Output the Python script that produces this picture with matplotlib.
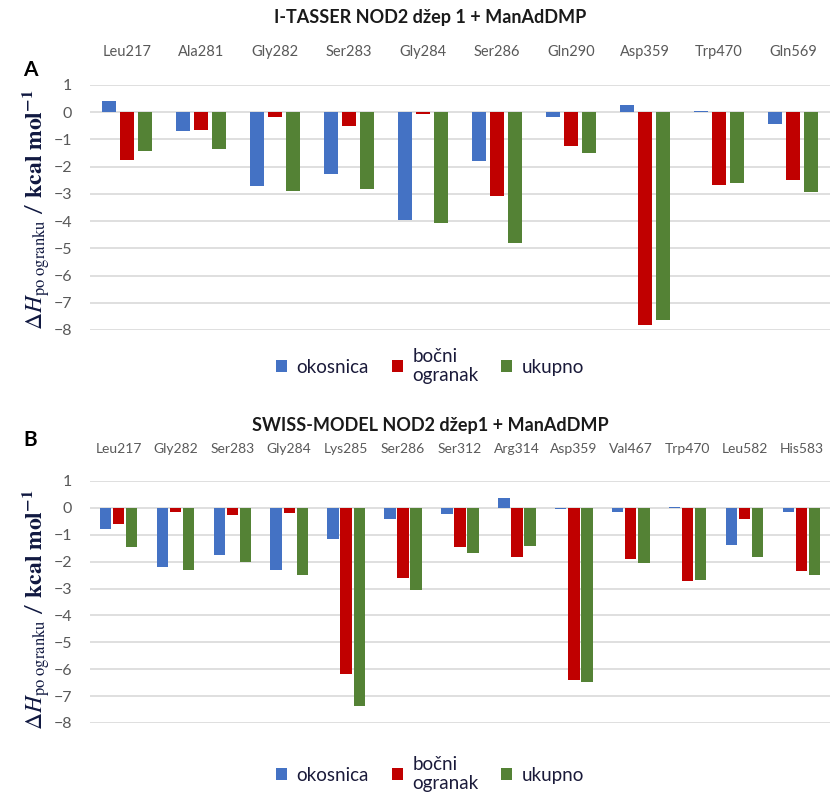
import matplotlib.pyplot as plt
import numpy as np

# Panel A: I-TASSER
res_a = ["Leu217", "Ala281", "Gly282", "Ser283", "Gly284", "Ser286",
         "Gln290", "Asp359", "Trp470", "Gln569"]
okosnica_a = [0.4, -0.69, -2.70, -2.28, -3.96, -1.79, -0.18, 0.25, 0.05, -0.43]
bocni_a = [-1.75, -0.65, -0.18, -0.50, -0.07, -3.07, -1.23, -7.80, -2.67, -2.49]
ukupno_a = [-1.41, -1.36, -2.88, -2.83, -4.06, -4.82, -1.50, -7.63, -2.61, -2.92]

# Panel B: SWISS-MODEL
res_b = ["Leu217", "Gly282", "Ser283", "Gly284", "Lys285", "Ser286", "Ser312",
         "Arg314", "Asp359", "Val467", "Trp470", "Leu582", "His583"]
okosnica_b = [-0.78, -2.18, -1.77, -2.30, -1.14, -0.40, -0.23, 0.35, -0.05,
              -0.15, 0.03, -1.39, -0.15]
bocni_b = [-0.60, -0.15, -0.25, -0.19, -6.16, -2.60, -1.45, -1.82, -6.41,
           -1.90, -2.71, -0.40, -2.36]
ukupno_b = [-1.45, -2.30, -2.00, -2.48, -7.36, -3.04, -1.67, -1.40, -6.46,
            -2.04, -2.68, -1.82, -2.51]

series_names = ["okosnica", "bočni\nogranak", "ukupno"]
colors = ["#4472C4", "#C00000", "#548235"]

plt.rcParams["font.family"] = ["Lato", "DejaVu Sans"]
plt.rcParams["mathtext.fontset"] = "stix"

fig = plt.figure(figsize=(8.31, 7.97), dpi=100)
W, H = 831, 797


def px_axes(x0, y0, x1, y1):
    return fig.add_axes([x0 / W, 1 - y1 / H, (x1 - x0) / W, (y1 - y0) / H])


def draw_panel(ax, labels, series, step, width, title, title_y, letter, letter_y,
               legend_y, ylabel_y, label_size):
    x = np.arange(len(labels))
    for k, (vals, c, name) in enumerate(zip(series, colors, series_names)):
        ax.bar(x + (k - 1) * step, vals, width, color=c, label=name, zorder=3)
    ax.set_xlim(-0.5, len(labels) - 0.5)
    ax.set_ylim(-8, 1)
    ax.set_yticks(range(-8, 2))
    ax.grid(axis="y", color="#D9D9D9", linewidth=1.2, zorder=0)
    for s in ax.spines.values():
        s.set_visible(False)
    ax.xaxis.set_ticks_position("top")
    ax.set_xticks(x)
    ax.set_xticklabels(labels, fontsize=label_size, color="#595959")
    ax.tick_params(axis="x", length=0, pad=19)
    ax.tick_params(axis="y", length=0, labelsize=11.5, colors="#595959", pad=13)

    fig.text(430 / W, 1 - title_y / H, title, ha="center", va="center",
             fontsize=13, fontweight="bold", color="#1a1a1a")
    fig.text(30 / W, 1 - letter_y / H, letter, ha="center", va="center",
             fontsize=15, fontweight="bold")
    fig.text(36 / W, 1 - ylabel_y / H,
             r"$\Delta H_{\mathrm{po\ ogranku}}$ / $\mathbf{kcal\ mol^{-1}}$",
             rotation=90, ha="center", va="center", fontsize=17,
             color="#101840")
    fig.legend(*ax.get_legend_handles_labels(), loc="center",
               bbox_to_anchor=(430 / W, 1 - legend_y / H), ncol=3,
               frameon=False, fontsize=13.5, handlelength=0.6, handleheight=0.6,
               handletextpad=0.5, columnspacing=1.2, labelcolor="#1a1a3a")


ax_a = px_axes(90, 85, 830, 330)
draw_panel(ax_a, res_a, [okosnica_a, bocni_a, ukupno_a], 0.24, 0.19,
           "I-TASSER NOD2 džep 1 + ManAdDMP", 18, "A", 70, 366, 210, 10.5)

ax_b = px_axes(90, 481, 830, 723)
draw_panel(ax_b, res_b, [okosnica_b, bocni_b, ukupno_b], 0.23, 0.2,
           "SWISS-MODEL NOD2 džep1 + ManAdDMP", 425, "B", 440, 774, 610, 10)

fig.savefig("out.png", dpi=100)
